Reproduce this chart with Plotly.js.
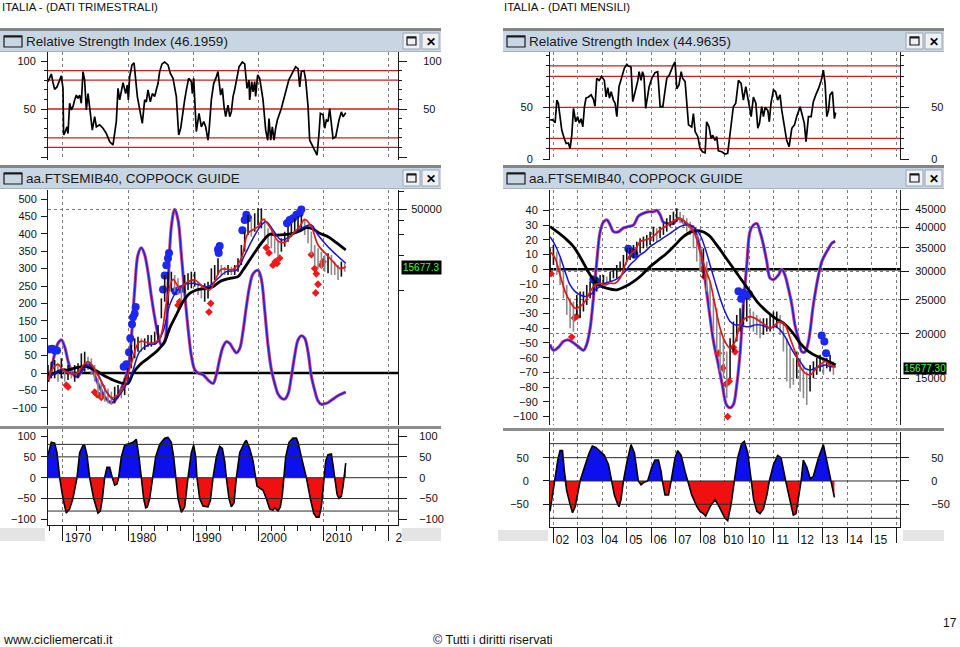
<!DOCTYPE html>
<html><head><meta charset="utf-8">
<script src="https://cdn.plot.ly/plotly-3.0.1.min.js"></script>
<style>html,body{margin:0;padding:0;background:#fff}#chart{width:960px;height:647px}</style>
</head><body><div id="chart"></div>
<script>
// ================= DATA : LEFT (quarterly, long history) =================
const lRsiYears = [1967.70,1967.95,1968.21,1968.47,1968.72,1969.08,1969.49,1969.74,1970.00,1970.10,1970.36,1970.61,1970.77,1971.02,1971.28,1971.53,1971.79,1972.05,1972.30,1972.56,1972.81,1973.07,1973.32,1973.58,1973.84,1974.19,1974.50,1974.86,1975.12,1975.63,1976.14,1976.65,1977.16,1977.67,1977.93,1978.18,1978.44,1978.70,1979.21,1979.62,1979.87,1980.03,1980.23,1980.59,1980.90,1981.15,1981.41,1981.92,1982.17,1982.53,1982.79,1983.04,1983.40,1983.71,1984.07,1984.32,1984.58,1984.83,1985.19,1985.60,1986.11,1986.47,1986.88,1987.39,1987.54,1987.75,1988.06,1988.41,1988.67,1988.93,1989.28,1989.69,1989.85,1990.05,1990.20,1990.46,1990.87,1991.23,1991.59,1991.89,1992.25,1992.40,1992.76,1993.12,1993.53,1993.78,1994.19,1994.45,1994.71,1994.96,1995.32,1995.58,1995.83,1996.09,1996.34,1996.70,1997.01,1997.52,1997.88,1998.24,1998.54,1998.64,1998.95,1999.16,1999.41,1999.56,1999.87,2000.18,2000.69,2001.10,2001.41,2001.61,2001.87,2002.12,2002.38,2002.63,2002.89,2003.50,2004.01,2004.37,2004.63,2005.29,2005.70,2006.06,2006.32,2006.57,2006.98,2007.24,2007.60,2007.85,2008.36,2008.72,2008.98,2009.28,2009.49,2009.90,2010.15,2010.41,2010.66,2010.92,2011.18,2011.43,2011.84,2012.10,2012.35,2012.71,2012.97,2013.38];
const lRsiValues = [78.5,82,86.5,77.5,70.5,73,80,84.5,71.5,23,26.5,31.5,24.5,56,49,52.5,59.5,64.5,61,64.5,56,89,80,49,66,45.5,28,42,31.5,33.5,30,24.5,16,12.5,24.5,37,71.5,59.5,77.5,66,75,59.5,83.5,96,98,82,63,44,35,59.5,57.5,70,57.5,66,63,70,76.5,89,97,99,96,87,82,63,45.5,23,30,49,59.5,70,82,78.5,66,82,56,26.5,45.5,31.5,37,31.5,17.5,26.5,59.5,76.5,83.5,89,64.5,71.5,52.5,42,54,42,47,63,70,85.5,94,99,97,71.5,80,59.5,78.5,68,78.5,63,85.5,82,59.5,28,17.5,40,17.5,31.5,17.5,30,38.5,50.5,63,73,80,89,94,92,73,89,90,80,52.5,17.5,11,5.5,2,24.5,45.5,44,30,38.5,37,50.5,35,19.5,21,31.5,38.5,47,42,46.2];

const lOscYears = [1967.70,1968.21,1968.72,1969.23,1969.74,1970.26,1970.77,1971.28,1971.79,1972.30,1972.81,1973.32,1973.84,1974.35,1975.12,1975.88,1976.65,1977.42,1977.93,1978.70,1979.46,1979.97,1980.49,1981.00,1981.51,1982.02,1982.53,1983.04,1983.56,1984.07,1984.58,1985.09,1985.60,1986.11,1986.62,1987.14,1987.65,1988.16,1988.67,1989.18,1989.69,1990.20,1990.72,1991.48,1992.25,1993.02,1993.53,1994.04,1994.55,1995.06,1995.58,1996.09,1996.60,1997.11,1997.62,1998.13,1998.64,1999.16,1999.92,2000.43,2000.95,2001.46,2001.97,2002.48,2002.99,2003.50,2004.01,2004.53,2005.04,2005.55,2006.06,2006.57,2007.08,2007.60,2008.11,2008.62,2009.13,2009.64,2010.15,2010.66,2011.43,2012.20,2012.97,2013.38];
const lOscValues = [-25,10,55,85,95,75,35,5,-8,-10,5,20,28,20,-20,-50,-75,-85,-80,-55,-20,10,100,240,340,360,340,290,220,160,110,80,90,250,420,470,440,340,230,130,50,10,0,-5,-20,-30,-5,40,75,90,85,70,58,70,120,190,250,285,295,270,180,80,10,-30,-60,-72,-75,-60,-10,50,95,107,100,60,-10,-50,-80,-90,-88,-85,-75,-65,-58,-55];

// semi-annual price bars (index points), first bar and spacing in years
const lBarStart = 1967.70, lBarStep = 0.5115;
const lBarHigh = [2320,2478,2561,2399,2647,2173,2320,2246,2320,2399,2917,3016,2735,2647,2320,1785,1670,1564,1465,1375,1513,1564,1465,1785,2173,3438,3920,4050,3920,3920,4186,4186,4470,5100,8610,13640,14560,14560,13640,12770,11210,13640,14090,14560,14560,11970,11210,11590,11970,15550,16600,18960,16600,16070,16600,16070,16600,18960,24610,31990,44460,41640,45920,50680,50680,41640,34160,31990,28060,26290,28060,31990,35310,37700,41640,43040,44460,40280,35310,31990,24610,23060,21600,20220,20890,20220,17750,16600,17750,17180];
const lBarLow = [1670,1785,1785,1670,1785,1670,1728,1785,1670,1785,2035,2035,2102,1907,1670,1287,1205,1128,1092,1057,1092,1205,1205,1287,1670,2173,2647,3016,3016,3117,3328,3328,3438,3795,5816,8063,7551,9835,9835,9205,8063,9515,10160,10500,10850,9205,8610,8063,8610,11210,12360,13640,13640,13640,13640,13640,13640,14560,16600,21600,29960,28980,31990,36490,34160,28060,24610,23060,20890,19590,21600,23820,26290,28980,30970,31990,33060,29960,25440,20220,16600,15550,15550,14560,14090,13640,13640,12360,13200,14560];

const lMaBlackYears = [1967.70,1968.72,1969.74,1970.77,1972.05,1973.58,1974.86,1976.14,1977.67,1979.21,1979.97,1980.74,1981.76,1983.04,1984.58,1985.60,1986.37,1987.39,1988.41,1989.44,1990.46,1991.99,1993.02,1994.04,1995.58,1996.85,1997.62,1999.16,2000.69,2001.71,2002.74,2004.27,2005.29,2006.32,2007.34,2008.36,2009.39,2010.66,2011.94,2013.38];
const lMaBlack = [1907,1970,2102,2102,2202,2246,2102,1907,1728,1617,1617,1970,2320,2647,3117,3674,4775,6210,8063,9515,10160,10500,10850,11970,12770,13200,15040,20220,26630,30360,29960,30360,30970,32420,34610,33740,30970,28980,25780,22320];
const lMaRedYears = [1967.70,1968.47,1969.23,1970.00,1971.02,1972.05,1973.84,1975.63,1977.42,1978.95,1980.49,1981.76,1983.56,1984.83,1985.86,1986.88,1987.90,1988.93,1990.20,1991.48,1992.51,1994.30,1996.09,1997.37,1998.39,1999.92,2000.69,2001.71,2002.99,2004.01,2005.29,2006.32,2007.08,2008.11,2009.13,2010.41,2011.43,2012.45,2013.38];
const lMaRed = [1728,2173,2350,2102,1970,1970,2478,1785,1221,1390,2399,3674,3554,3920,7800,12520,10500,11740,12360,10850,10160,15240,15240,18960,30970,35310,40810,35310,26630,25940,30970,35310,40810,35310,24610,20500,17750,15550,16070];
const lMaBlueYears = [1967.70,1968.72,1970.00,1971.28,1972.56,1973.84,1975.12,1976.65,1977.93,1979.21,1980.49,1981.76,1983.04,1984.32,1985.35,1986.37,1987.39,1988.41,1989.69,1990.97,1992.25,1993.53,1995.06,1996.60,1997.88,1999.16,2000.43,2001.20,2002.22,2003.50,2004.78,2006.06,2007.08,2008.11,2009.13,2010.41,2011.69,2013.38];
const lMaBlue = [1785,1970,2102,1970,1970,2320,2035,1375,1166,1420,1907,3016,3438,3554,4470,7551,9835,11210,11590,11210,10850,12360,14560,15040,20220,28060,36490,38990,33060,27160,28980,33060,35310,36490,29960,24610,20890,17180];

const lSellYears = [1967.95,1968.36,1968.72,1969.08,1979.31,1979.72,1980.13,1980.33,1980.59,1980.74,1981.00,1981.15,1985.35,1985.60,1985.86,1986.11,1986.27,1987.24,1987.90,1993.78,1993.89,1994.04,1997.52,1997.88,1998.13,1998.39,2004.37,2004.78,2005.29,2005.81,2006.32,2006.57];
const lSellValues = [68,70,65,65,18,25,60,100,140,160,170,190,240,280,310,330,345,235,240,355,345,365,410,440,455,445,430,440,445,455,460,470];
const lBuyYears = [1970.51,1970.77,1974.86,1975.22,1975.63,1975.88,1987.65,1987.90,1992.40,1992.66,2001.20,2001.61,2002.22,2002.58,2002.84,2003.25,2008.11,2008.62,2008.77,2008.87,2009.13,2009.64,2009.90];
const lBuyValues = [-35,-40,-55,-62,-65,-70,195,205,175,200,360,345,310,320,315,330,340,300,230,285,255,310,320];

const lCoppYears = [1967.70,1968.21,1968.72,1969.08,1969.49,1970.00,1970.51,1971.02,1971.53,1971.94,1972.15,1972.56,1973.07,1973.32,1973.68,1974.09,1974.71,1975.37,1975.73,1976.04,1976.39,1976.75,1977.16,1977.57,1977.93,1978.29,1978.54,1978.95,1979.46,1980.23,1980.74,1981.25,1981.66,1982.02,1982.38,1982.69,1982.94,1983.30,1983.81,1984.22,1984.83,1985.60,1986.11,1986.62,1986.98,1987.29,1987.65,1988.16,1988.67,1989.18,1989.69,1990.05,1990.36,1990.56,1990.97,1991.48,1992.25,1992.61,1993.02,1993.53,1994.04,1994.45,1994.81,1995.06,1995.47,1995.83,1996.24,1996.60,1997.11,1997.88,1998.13,1998.64,1999.16,1999.56,1999.77,2000.18,2000.69,2001.20,2001.71,2002.22,2002.48,2002.99,2003.35,2003.66,2003.86,2004.17,2004.68,2005.29,2005.81,2006.06,2006.57,2007.08,2007.34,2007.95,2008.46,2008.87,2009.28,2009.64,2010.00,2010.31,2010.66,2011.18,2011.43,2011.69,2012.05,2012.35,2012.71,2012.97,2013.12,2013.38];
const lCoppValues = [55,85,83,60,0,-50,-85,-75,-50,-20,0,60,78,78,55,0,-50,-85,-80,-50,0,25,25,0,-18,-15,0,50,78,82,85,92,50,0,-50,-72,-70,-50,0,50,80,95,97,85,50,0,-50,-83,-70,0,60,78,50,0,-50,-68,-70,-55,0,50,75,70,40,0,-50,-70,-60,0,60,85,90,70,40,0,-20,-25,-30,-50,-75,-78,-72,-80,-70,-40,0,50,85,95,95,85,50,20,0,-50,-85,-95,-95,-70,0,40,55,57,30,0,-40,-50,-45,-20,0,35];

// ================= DATA : RIGHT (monthly, 2002-2013) =================
const rRsiYears = [2001.86,2001.96,2002.07,2002.14,2002.20,2002.27,2002.34,2002.44,2002.52,2002.61,2002.68,2002.75,2002.82,2002.91,2002.99,2003.06,2003.13,2003.20,2003.27,2003.33,2003.43,2003.54,2003.63,2003.70,2003.77,2003.87,2003.97,2004.08,2004.15,2004.22,2004.29,2004.36,2004.45,2004.52,2004.59,2004.68,2004.79,2004.90,2005.00,2005.06,2005.17,2005.24,2005.34,2005.45,2005.50,2005.58,2005.64,2005.70,2005.77,2005.84,2005.91,2006.02,2006.15,2006.26,2006.36,2006.47,2006.53,2006.63,2006.73,2006.83,2006.90,2006.97,2007.04,2007.13,2007.22,2007.28,2007.38,2007.45,2007.52,2007.65,2007.72,2007.79,2007.90,2007.99,2008.09,2008.20,2008.26,2008.36,2008.44,2008.51,2008.60,2008.67,2008.74,2008.88,2009.01,2009.12,2009.22,2009.35,2009.45,2009.56,2009.67,2009.76,2009.86,2009.97,2010.08,2010.17,2010.27,2010.35,2010.42,2010.51,2010.58,2010.65,2010.76,2010.82,2010.89,2010.99,2011.08,2011.16,2011.26,2011.33,2011.44,2011.53,2011.63,2011.74,2011.85,2011.94,2012.08,2012.15,2012.25,2012.32,2012.42,2012.53,2012.62,2012.72,2012.83,2012.94,2013.03,2013.10,2013.17,2013.24,2013.30,2013.40,2013.48,2013.53];
const rRsiValues = [37.7,38,35,57,54,42.5,28,20,15,15.5,10,23,49,36,41,34.5,39,31,51,59,60,62,58,51,78,76,80,76,60,69,59,65,57,54,41,70,80,88,91.6,90,89,55.5,65,76,84.5,76,84.5,80,49,60,70,78,83.5,84.5,50.6,50.6,60,78,81,88,91,94,68,71.6,84.5,78,75,53.9,33,31,44,26.5,21.6,10.3,7,6,36,31,20,23,18,21.6,8,7,4.8,5.5,24.8,50.6,54,76,73,57,70,57,41,60,54,29.7,34.5,50.6,41,50,47,36,54,66.8,65,57,62,47,31,18,12,29.7,33,41,50.6,42.6,34.5,16.8,41,41,55.5,62,68,76,86,73,41,47,62,65,39,44.96];

const rOscYears = [2001.86,2002.00,2002.20,2002.41,2002.61,2002.82,2003.02,2003.23,2003.36,2003.50,2003.63,2003.77,2003.91,2004.04,2004.18,2004.32,2004.45,2004.66,2004.86,2005.06,2005.27,2005.47,2005.68,2005.88,2006.09,2006.22,2006.36,2006.49,2006.70,2006.90,2007.11,2007.31,2007.52,2007.72,2007.92,2008.13,2008.33,2008.54,2008.74,2008.90,2009.07,2009.22,2009.35,2009.49,2009.63,2009.76,2009.90,2010.03,2010.17,2010.31,2010.44,2010.58,2010.72,2010.85,2010.99,2011.19,2011.33,2011.46,2011.60,2011.74,2011.87,2012.01,2012.15,2012.28,2012.42,2012.62,2012.83,2012.96,2013.10,2013.24,2013.37,2013.51];
const rOscValues = [-51,-55,-53,-49,-48,-50,-52.5,-55,-51,-40,-20,5,25.5,32,33.5,30,25.5,25.5,28,29,30,36,38,39,39,40,37,32,31,31,34.6,32,30,28,19,0.7,-24,-49,-65,-78.5,-92,-94,-92,-78.5,-56,-24,3,25.5,30,31,25.5,16.5,5,-6,-7,-4,0,-4,-13,-24,-38,-47,-56,-56,-49,-24,-4,5,10,14,17.6,19];

// price bars (index points) roughly every 7 weeks
const rBarStart = 2001.864, rBarStep = 0.13618;
const rBarHigh = [34910,35680,34170,32720,30000,27510,25230,24690,25790,26350,26350,27510,28110,28730,29050,29360,29360,29050,30000,30660,31330,32020,33440,34910,34910,35680,36460,37260,37670,38080,38910,40200,39780,40200,41080,42440,43370,44320,45290,44320,43370,42440,41530,40640,38080,34910,34910,32020,28110,25230,23640,20310,19460,17850,19460,21680,22640,23640,24160,25230,23640,23140,22640,22160,22160,22160,22640,23140,23140,22640,21680,19460,18240,17100,17850,17100,16350,15660,16350,16740,17100,17470,17100,17100,17470,16740];
const rBarLow = [30000,31330,29360,27510,25230,22640,20770,20310,22640,22160,23140,24160,25230,25790,26350,27220,27510,27510,28110,28730,28730,30000,30660,32020,32370,32720,33440,33800,34910,35300,35680,36460,36460,37260,38080,38910,40200,40640,41530,41080,39780,38910,38080,34910,32020,30000,28730,26350,23640,20310,17850,15660,15000,13170,15000,17850,19040,20310,21220,21680,20770,20310,19880,19460,19880,20310,20310,20770,20770,19880,17850,14680,14060,14370,15000,13760,13170,12610,13760,15000,15330,15660,15330,16000,15660,15330];

const rMaYears = [2001.86,2002.07,2002.27,2002.48,2002.68,2002.89,2003.09,2003.29,2003.50,2003.70,2003.91,2004.11,2004.32,2004.52,2004.72,2004.93,2005.13,2005.34,2005.54,2005.74,2005.95,2006.15,2006.36,2006.56,2006.77,2006.97,2007.17,2007.38,2007.58,2007.79,2007.99,2008.20,2008.40,2008.60,2008.81,2009.01,2009.22,2009.42,2009.63,2009.83,2010.03,2010.24,2010.44,2010.65,2010.85,2011.06,2011.26,2011.46,2011.67,2011.87,2012.08,2012.28,2012.49,2012.69,2012.89,2013.10,2013.30,2013.53];
const rMaRed = [34170,32720,29360,26350,24690,23640,23900,24690,26350,27510,27810,27510,27810,27810,28730,31330,33440,34540,36460,36850,37260,38080,39350,40200,41080,41990,42440,41530,40200,38080,34170,30660,28110,24160,20770,19040,18240,19040,21220,22160,22400,22160,21680,21220,20770,21220,21680,21220,19460,17850,16170,15500,15330,15830,16350,16740,16350,16170];
const rMaBlue = [37670,35680,33080,30000,27510,26350,25790,25510,25790,26640,27220,27810,28110,28420,29050,30000,31330,32370,33440,34170,35300,36060,36850,37670,38490,39350,40200,40640,40640,39780,38080,34910,31330,28110,25230,23140,21680,21220,21220,20990,20990,21220,21220,20990,20770,20990,20540,19670,18440,17470,16740,16000,15830,16000,16170,16350,16170,16170];
const rMaBlackYears = [2001.86,2002.14,2002.48,2002.82,2003.16,2003.50,2003.84,2004.18,2004.59,2004.93,2005.27,2005.61,2005.95,2006.29,2006.63,2006.97,2007.31,2007.65,2007.99,2008.33,2008.67,2009.01,2009.35,2009.69,2010.03,2010.37,2010.72,2011.06,2011.40,2011.74,2012.08,2012.42,2012.76,2013.10,2013.37,2013.53];
const rMaBlack = [40200,38910,37260,35300,32370,29360,27510,26930,26640,27220,28110,29360,30990,32370,33800,35680,37670,38910,39080,38080,35680,33080,30660,28420,26350,24430,23140,22160,21450,20310,18840,17850,17290,16920,16560,16350];

const rSellYears = [2003.63,2003.73,2005.06,2005.20,2005.31,2009.56,2009.67,2009.76,2009.90,2009.99,2012.96,2013.07,2013.14];
const rSellValues = [-7,-8,14,12,10,-15,-20,-16,-18,-17,-45,-49,-57];
const rBuyYears = [2001.90,2002.75,2002.86,2002.95,2008.09,2008.17,2008.74,2008.92,2009.05,2009.18,2009.12,2009.35,2009.42];
const rBuyValues = [-3,-46,-33,-32,0,-5,-57,-67,-78,-76,-100,-53,-56];

const rCoppYears = [2001.86,2002.04,2002.18,2002.27,2002.37,2002.45,2002.54,2002.68,2002.78,2002.89,2003.02,2003.09,2003.27,2003.46,2003.59,2003.73,2003.87,2004.08,2004.25,2004.38,2004.49,2004.63,2004.68,2004.76,2004.86,2005.00,2005.17,2005.31,2005.47,2005.58,2005.72,2005.85,2006.02,2006.15,2006.29,2006.40,2006.45,2006.56,2006.70,2006.81,2006.97,2007.08,2007.22,2007.38,2007.49,2007.65,2007.86,2007.99,2008.13,2008.22,2008.40,2008.60,2008.77,2009.01,2009.12,2009.26,2009.39,2009.53,2009.69,2009.80,2009.94,2010.08,2010.18,2010.31,2010.44,2010.58,2010.72,2010.82,2010.99,2011.16,2011.30,2011.49,2011.67,2011.80,2011.91,2012.01,2012.12,2012.21,2012.35,2012.49,2012.62,2012.83,2013.03,2013.10,2013.24,2013.34,2013.48];
const rCoppValues = [-65,0,45,65,65,20,-20,-50,-68,-55,-20,0,30,60,75,72,65,55,35,0,-30,-50,-55,-40,0,40,78,60,0,-8,-2,0,30,45,45,20,0,-30,-30,0,50,65,55,20,0,-30,-55,-65,-70,-75,-55,-40,-55,-80,-85,-50,0,50,80,85,60,0,-40,-65,-70,-60,-30,0,35,55,50,0,-40,-73,-70,-40,0,45,30,5,10,50,78,60,20,0,-35];

const lastPrice = 15677.3;
const rsiLevels = [90, 80, 50, 20, 10];
const coppLevels = [80, 50, 0, -50, -80];

// tick labels
const lDecades = [1970, 1980, 1990, 2000, 2010, 2020];
const lDecadeText = ['1970', '1980', '1990', '2000', '2010', '2\u00a0\u00a0\u00a0'];
const rYearTicks = [2002, 2003, 2004, 2005, 2006, 2007, 2008, 2009, 2010, 2011, 2012, 2013, 2014, 2015, 2016];
const rYearText = ['02', '03', '04', '05', '06', '07', '08', '010', '10', '11', '12', '13', '14', '15', ''];
const lMainTicks = [-100, -50, 0, 50, 100, 150, 200, 250, 300, 350, 400, 450, 500];
const rMainTicks = [-100, -90, -80, -70, -60, -50, -40, -30, -20, -10, 0, 10, 20, 30, 40];
const rPriceTicks = [15000, 20000, 25000, 30000, 35000, 40000, 45000];

// ================= BUILD =================
const W = 960, H = 647;
const px = v => v / W, py = v => 1 - v / H;
const FONT = 'Liberation Sans, Arial, sans-serif';

function segs(start, step, hi, lo) {
  const xs = [], ys = [], xg = [], yg = [];
  for (let i = 0; i < hi.length; i++) {
    const t = start + i * step;
    const up = i === 0 || hi[i] >= hi[i - 1];
    const X = up ? xs : xg, Y = up ? ys : yg;
    X.push(t, t, null); Y.push(lo[i], hi[i], null);
  }
  return [{x: xs, y: ys}, {x: xg, y: yg}];
}

function panelTraces(o) {
  const tr = [];
  // RSI (also registered on the right-hand RSI scale, invisibly, so that axis is drawn)
  tr.push({x: o.rsiX, y: o.rsiY, xaxis: o.ax.rx, yaxis: o.ax.ry2, mode: 'lines', opacity: 0, line: {width: 0}});
  tr.push({x: o.rsiX, y: o.rsiY, xaxis: o.ax.rx, yaxis: o.ax.ry, mode: 'lines', line: {color: '#000', width: 1.7}});
  // price bars
  const b = segs(o.barStart, o.barStep, o.barHi, o.barLo);
  tr.push({x: b[1].x, y: b[1].y, xaxis: o.ax.mx, yaxis: o.ax.py, mode: 'lines', line: {color: '#8a8a8a', width: 1.6}});
  tr.push({x: b[0].x, y: b[0].y, xaxis: o.ax.mx, yaxis: o.ax.py, mode: 'lines', line: {color: '#111', width: 1.6}});
  // moving averages
  tr.push({x: o.blackX, y: o.black, xaxis: o.ax.mx, yaxis: o.ax.py, mode: 'lines', line: {color: '#000', width: 2.8, shape: 'spline'}});
  tr.push({x: o.blueX, y: o.blue, xaxis: o.ax.mx, yaxis: o.ax.py, mode: 'lines', line: {color: '#1515d0', width: 1.5, shape: 'spline'}});
  tr.push({x: o.redX, y: o.red, xaxis: o.ax.mx, yaxis: o.ax.py, mode: 'lines', line: {color: '#e01818', width: 1.7, shape: 'spline'}});
  // oscillator (twin lines)
  tr.push({x: o.oscX, y: o.oscY, xaxis: o.ax.mx, yaxis: o.ax.my, mode: 'lines', line: {color: '#c84a86', width: 3.2, shape: 'spline'}});
  tr.push({x: o.oscX, y: o.oscY, xaxis: o.ax.mx, yaxis: o.ax.my, mode: 'lines', line: {color: '#1f1fe0', width: 1.5, shape: 'spline'}});
  // signals
  tr.push({x: o.sellX, y: o.sellY, xaxis: o.ax.mx, yaxis: o.ax.my, mode: 'markers', marker: {color: '#1c28f0', size: 8, symbol: 'circle'}});
  tr.push({x: o.buyX, y: o.buyY, xaxis: o.ax.mx, yaxis: o.ax.my, mode: 'markers', marker: {color: '#f01818', size: 6, symbol: 'diamond'}});
  // coppock histogram
  tr.push({x: o.cX, y: o.cY, xaxis: o.ax.cx, yaxis: o.ax.cy2, mode: 'lines', opacity: 0, line: {width: 0}});
  tr.push({x: o.cX, y: o.cY.map(v => Math.max(v, 0)), xaxis: o.ax.cx, yaxis: o.ax.cy, mode: 'lines', fill: 'tozeroy', fillcolor: '#0c10ee', line: {width: 0, color: 'rgba(0,0,0,0)'}});
  tr.push({x: o.cX, y: o.cY.map(v => Math.min(v, 0)), xaxis: o.ax.cx, yaxis: o.ax.cy, mode: 'lines', fill: 'tozeroy', fillcolor: '#f01010', line: {width: 0, color: 'rgba(0,0,0,0)'}});
  tr.push({x: o.cX, y: o.cY, xaxis: o.ax.cx, yaxis: o.ax.cy, mode: 'lines', line: {color: '#000', width: 1.6}});
  return tr;
}

const data = [].concat(
  panelTraces({ax: {rx: 'x', ry: 'y', ry2: 'y2', mx: 'x2', my: 'y3', py: 'y4', cx: 'x3', cy: 'y5', cy2: 'y6'},
    rsiX: lRsiYears, rsiY: lRsiValues, barStart: lBarStart, barStep: lBarStep, barHi: lBarHigh, barLo: lBarLow,
    blackX: lMaBlackYears, black: lMaBlack, blueX: lMaBlueYears, blue: lMaBlue, redX: lMaRedYears, red: lMaRed,
    oscX: lOscYears, oscY: lOscValues, sellX: lSellYears, sellY: lSellValues, buyX: lBuyYears, buyY: lBuyValues,
    cX: lCoppYears, cY: lCoppValues}),
  panelTraces({ax: {rx: 'x4', ry: 'y7', ry2: 'y8', mx: 'x5', my: 'y9', py: 'y10', cx: 'x6', cy: 'y11', cy2: 'y12'},
    rsiX: rRsiYears, rsiY: rRsiValues, barStart: rBarStart, barStep: rBarStep, barHi: rBarHigh, barLo: rBarLow,
    blackX: rMaBlackYears, black: rMaBlack, blueX: rMaYears, blue: rMaBlue, redX: rMaYears, red: rMaRed,
    oscX: rOscYears, oscY: rOscValues, sellX: rSellYears, sellY: rSellValues, buyX: rBuyYears, buyY: rBuyValues,
    cX: rCoppYears, cY: rCoppValues})
);

const tickFont = {family: FONT, size: 11, color: '#111'};
const GRID = '#7a7a7a';
function xAx(dom, range, vals, extra) {
  return Object.assign({domain: [px(dom[0]), px(dom[1])], range: range, tickmode: 'array', tickvals: vals,
    showticklabels: false, ticks: '', showgrid: true, gridcolor: GRID, gridwidth: 1, griddash: '3px,3px',
    zeroline: false, showline: false, fixedrange: true}, extra || {});
}
function yAx(top, bottom, range, extra) {
  return Object.assign({domain: [py(bottom), py(top)], range: range, showgrid: false, zeroline: false,
    showline: true, linecolor: '#1a1a1a', linewidth: 1, ticks: 'outside', ticklen: 6, tickcolor: '#1a1a1a',
    tickfont: tickFont, fixedrange: true}, extra || {});
}
function yRight(over, anchor, range, extra) {
  return Object.assign({overlaying: over, anchor: anchor, side: 'right', range: range, showgrid: false, zeroline: false,
    showline: true, linecolor: '#1a1a1a', linewidth: 1, ticks: 'outside', ticklen: 8, tickcolor: '#1a1a1a',
    tickfont: tickFont, fixedrange: true}, extra || {});
}

const LD = [48, 398], RD = [550, 900];
const LXR = [1967.7, 2021.4], RXR = [2001.86, 2016.16];
const lRsiR = [-3.1, 109.4], rRsiR = [-0.97, 103.5];
const lMainR = [-149.4, 525.9], rMainR = [-105.7, 53.8];
const lPriceR = [2.8528, 4.8614], rPriceR = [4.0439, 4.7077];
const lCopR = [-113.5, 116.9], rCopR = [-98.6, 105];

const minorY10 = {tickmode: 'linear', tick0: 0, dtick: 10, ticks: 'outside', ticklen: 3, tickcolor: '#1a1a1a'};

const layout = {
  width: W, height: H, margin: {l: 0, r: 0, t: 0, b: 0}, paper_bgcolor: '#fff', plot_bgcolor: '#fff',
  showlegend: false, hovermode: false, font: {family: FONT, color: '#111'},
  // ---- left column
  xaxis: xAx(LD, LXR, lDecades, {anchor: 'y'}),
  xaxis2: xAx(LD, LXR, lDecades, {anchor: 'y3'}),
  xaxis3: xAx(LD, LXR, lDecades, {anchor: 'y5', showticklabels: true, ticktext: lDecadeText, ticks: 'outside', ticklen: 15,
    tickcolor: '#1a1a1a', showline: true, linecolor: '#1a1a1a', tickfont: {family: FONT, size: 12, color: '#111'},
    ticklabelshift: 15, ticklabelstandoff: -13,
    minor: {tickmode: 'linear', tick0: 1970, dtick: 2, ticks: 'outside', ticklen: 5, tickcolor: '#1a1a1a', showgrid: false}}),
  yaxis: yAx(52, 160, lRsiR, {anchor: 'x', tickmode: 'array', tickvals: [0, 50, 100], ticktext: ['', '50', '100'], ticklabelstandoff: 3, minor: minorY10}),
  yaxis2: yRight('y', 'x', lRsiR, {tickmode: 'array', tickvals: [0, 50, 100], ticktext: ['', '50', '100'], ticklabelstandoff: 14, minor: minorY10}),
  yaxis3: yAx(190, 425, lMainR, {anchor: 'x2', tickmode: 'array', tickvals: lMainTicks, ticklabelstandoff: 2}),
  yaxis4: yRight('y3', 'x2', lPriceR, {type: 'log', tickmode: 'array', tickvals: [50000], ticktext: ['50000'], ticklabelstandoff: 2,
    showgrid: true, gridcolor: GRID, griddash: '3px,3px',
    minor: {tickmode: 'array', tickvals: [10000, 20000, 30000, 40000, 70000], ticks: 'outside', ticklen: 5, tickcolor: '#1a1a1a', showgrid: false}}),
  yaxis5: yAx(429, 525, lCopR, {anchor: 'x3', tickmode: 'array', tickvals: [-100, -50, 0, 50, 100], ticklabelstandoff: 3}),
  yaxis6: yRight('y5', 'x3', lCopR, {tickmode: 'array', tickvals: [-100, -50, 0, 50, 100], ticklabelstandoff: 10}),
  // ---- right column
  xaxis4: xAx(RD, RXR, rYearTicks, {anchor: 'y7'}),
  xaxis5: xAx(RD, RXR, rYearTicks, {anchor: 'y9'}),
  xaxis6: xAx(RD, RXR, rYearTicks, {anchor: 'y11', showticklabels: true, ticktext: rYearText, ticks: 'outside', ticklen: 15,
    tickcolor: '#1a1a1a', showline: true, linecolor: '#1a1a1a', tickfont: {family: FONT, size: 12, color: '#111'},
    ticklabelshift: 9, ticklabelstandoff: -13}),
  yaxis7: yAx(52, 160, rRsiR, {anchor: 'x4', tickmode: 'array', tickvals: [0, 50], ticklabelstandoff: 8, minor: minorY10}),
  yaxis8: yRight('y7', 'x4', rRsiR, {tickmode: 'array', tickvals: [0, 50], ticklabelstandoff: 20, minor: minorY10}),
  yaxis9: yAx(190, 425, rMainR, {anchor: 'x5', tickmode: 'array', tickvals: rMainTicks, ticklabelstandoff: 3}),
  yaxis10: yRight('y9', 'x5', rPriceR, {type: 'log', tickmode: 'array', tickvals: rPriceTicks, ticktext: rPriceTicks.map(String),
    ticklabelstandoff: 4, showgrid: true, gridcolor: GRID, griddash: '3px,3px'}),
  yaxis11: yAx(432, 527, rCopR, {anchor: 'x6', tickmode: 'array', tickvals: [-50, 0, 50], ticklabelstandoff: 12}),
  yaxis12: yRight('y11', 'x6', rCopR, {tickmode: 'array', tickvals: [-50, 0, 50], ticklabelstandoff: 20}),
  shapes: [], annotations: []
};

// reference lines
rsiLevels.forEach(v => {
  ['x', 'x4'].forEach((xa, i) => layout.shapes.push({type: 'line', xref: xa + ' domain', x0: 0, x1: 1, yref: i ? 'y7' : 'y', y0: v, y1: v,
    line: {color: '#d01c1c', width: 1.3}, layer: 'below'}));
});
coppLevels.forEach(v => {
  ['x3', 'x6'].forEach((xa, i) => layout.shapes.push({type: 'line', xref: xa + ' domain', x0: 0, x1: 1, yref: i ? 'y11' : 'y5', y0: v, y1: v,
    line: {color: '#2a2a2a', width: 1}, layer: 'above'}));
});
[['x2', 'y3'], ['x5', 'y9']].forEach(a => layout.shapes.push({type: 'line', xref: a[0] + ' domain', x0: 0, x1: 1, yref: a[1], y0: 0, y1: 0,
  line: {color: '#000', width: 2.5}, layer: 'below'}));

// window chrome (paper coordinates)
const S = layout.shapes, A = layout.annotations;
function rect(x0, y0, x1, y1, fill, lc, lw) {
  S.push({type: 'rect', xref: 'paper', yref: 'paper', x0: px(x0), x1: px(x1), y0: py(y1), y1: py(y0),
    fillcolor: fill, line: {color: lc || 'rgba(0,0,0,0)', width: lw || 0}, layer: 'above'});
}
function hline(x0, x1, y, color, w) {
  S.push({type: 'line', xref: 'paper', yref: 'paper', x0: px(x0), x1: px(x1), y0: py(y), y1: py(y), line: {color: color, width: w}, layer: 'above'});
}
function txt(x, y, t, size, anchor, color, weight) {
  A.push({xref: 'paper', yref: 'paper', x: px(x), y: py(y), text: t, showarrow: false, xanchor: anchor || 'left', yanchor: 'middle',
    font: {family: FONT, size: size, color: color || '#111', weight: weight || 'normal'}});
}
function titleBar(x0, x1, y0, y1, label) {
  hline(x0, x1, y0 - 1.5, '#858585', 3);
  rect(x0, y0, x1, y1, '#c8d6e4');
  hline(x0, x1, y1 + 0.5, '#a6b2bf', 1);
  // window icon
  rect(x0 + 4, y0 + 5, x0 + 22, y0 + 16, 'rgba(0,0,0,0)', '#1a1a1a', 1.2);
  hline(x0 + 4, x0 + 22, y0 + 5.5, '#1a1a1a', 2);
  txt(x0 + 24, (y0 + y1) / 2 + 0.5, label, 13.5, 'left', '#1a1a1a');
  // buttons
  rect(x1 - 38, y0 + 2, x1 - 21, y1 - 2, '#eef2f6', '#9aa4ae', 1);
  rect(x1 - 34, y0 + 6, x1 - 25, y1 - 6, 'rgba(0,0,0,0)', '#1a1a1a', 1.2);
  hline(x1 - 34, x1 - 25, y0 + 6.5, '#1a1a1a', 2);
  rect(x1 - 19, y0 + 2, x1 - 2, y1 - 2, '#eef2f6', '#9aa4ae', 1);
  txt(x1 - 10.5, (y0 + y1) / 2 + 0.5, '\u2715', 12, 'center', '#000', 'bold');
}
// left column
titleBar(0, 441, 31, 51, 'Relative Strength Index (46.1959)');
titleBar(0, 441, 168, 188, 'aa.FTSEMIB40, COPPOCK GUIDE');
hline(0, 441, 427.5, '#8d8d8d', 3);
rect(0, 528, 45, 541, '#e4e4e4');
rect(402, 528, 441, 541, '#e4e4e4');
// right column
titleBar(503, 944, 31, 51, 'Relative Strength Index (44.9635)');
titleBar(503, 944, 168, 188, 'aa.FTSEMIB40, COPPOCK GUIDE');
hline(503, 944, 429.5, '#8d8d8d', 3);
rect(498, 530, 548, 541, '#e4e4e4');
rect(903, 530, 944, 541, '#e4e4e4');

// last price boxes
A.push({xref: 'paper', x: px(401), xanchor: 'left', yref: 'y4', y: Math.log10(lastPrice), yanchor: 'middle', text: lastPrice.toFixed(1),
  showarrow: false, bgcolor: '#000', borderpad: 1, font: {family: FONT, size: 10, color: '#3cff3c'}});
A.push({xref: 'paper', x: px(903), xanchor: 'left', yref: 'y10', y: Math.log10(lastPrice), yanchor: 'bottom', yshift: -4, text: lastPrice.toFixed(2),
  showarrow: false, bgcolor: '#000', borderpad: 0, font: {family: FONT, size: 10, color: '#3cff3c'}});

// page texts
txt(0, 7, 'ITALIA - (DATI TRIMESTRALI)', 11.5, 'left', '#111');
txt(502, 7, 'ITALIA - (DATI MENSILI)', 11.5, 'left', '#111');
txt(1, 640, 'www.cicliemercati.it', 12.5, 'left', '#111');
txt(493, 640, '\u00a9 Tutti i diritti riservati', 12.5, 'center', '#111');
txt(959, 623, '17', 12, 'right', '#111');

Plotly.newPlot('chart', data, layout, {staticPlot: true, displayModeBar: false});
</script></body></html>
